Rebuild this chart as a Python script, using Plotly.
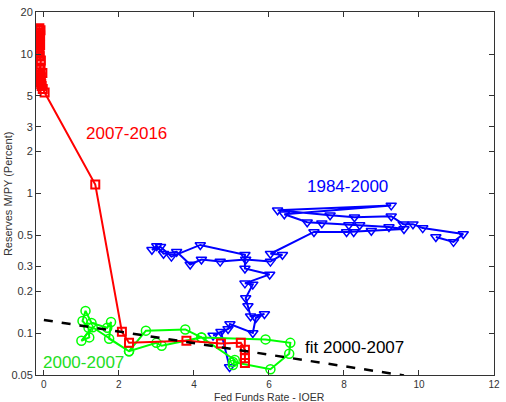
import math
import plotly.graph_objects as go

# ---------------- data ----------------
blue_x = [10.45, 10.92, 11.18, 10.10, 9.84, 9.58, 9.26, 8.28, 7.63, 6.23, 9.26, 6.41, 7.02, 7.41,
          8.13, 8.42, 9.20, 9.60, 8.73, 8.26, 8.07, 7.20, 6.04, 6.36, 6.04, 5.38, 4.70, 4.20, 3.90,
          3.54, 3.19, 3.01, 2.88, 3.11, 3.40, 4.17, 5.36, 5.36, 6.02, 5.36, 5.57, 5.38, 5.44, 5.51,
          5.88, 5.65, 5.57, 4.96, 4.91, 4.51, 4.72, 4.95]
blue_y = [0.488, 0.450, 0.513, 0.565, 0.603, 0.603, 0.687, 0.676, 0.699, 0.758, 0.822, 0.710, 0.623, 0.613,
          0.594, 0.594, 0.575, 0.556, 0.540, 0.530, 0.530, 0.530, 0.370, 0.364, 0.325, 0.336, 0.325, 0.336, 0.310,
          0.382, 0.370, 0.420, 0.395, 0.415, 0.353, 0.428, 0.364, 0.290, 0.263, 0.227, 0.223, 0.178, 0.156, 0.132,
          0.137, 0.128, 0.100, 0.116, 0.107, 0.096, 0.102, 0.057]

green_x = [5.04, 6.04, 6.54, 6.57, 5.91, 4.20, 3.77, 2.72, 2.27, 1.74, 1.79, 1.69, 1.27, 1.11, 1.03,
           1.19, 1.21, 1.00, 1.30, 2.27, 3.00, 3.14, 4.20, 5.09, 5.04]
green_y = [0.062, 0.055, 0.071, 0.085, 0.090, 0.093, 0.106, 0.104, 0.074, 0.091, 0.120, 0.109, 0.118, 0.144, 0.122,
           0.109, 0.093, 0.088, 0.110, 0.074, 0.085, 0.081, 0.093, 0.064, 0.059]

red_x = [5.36, 5.36, 5.36, 5.25, 4.72, 3.80, 2.27, 2.08, 1.37, 0.02,
         -0.03, -0.06, -0.10, -0.08, -0.04, -0.09, -0.12, -0.10, -0.07, -0.11, -0.13, -0.10,
         -0.08, -0.12, -0.15, -0.13, -0.10, -0.12, -0.14, -0.11, -0.09, -0.12, -0.15, -0.13,
         -0.10, -0.12, -0.14, -0.16, -0.13, -0.11, -0.14]
red_y = [0.061, 0.066, 0.076, 0.085, 0.084, 0.088, 0.085, 0.102, 1.16, 5.3,
         5.6, 5.9, 6.3, 6.8, 7.3, 7.7, 7.1, 6.5, 6.1, 6.7, 7.4, 8.0,
         9.0, 9.6, 10.2, 10.9, 11.6, 12.4, 13.2, 14.0, 14.8, 15.3, 15.0, 14.3,
         13.6, 12.8, 12.0, 11.2, 10.5, 9.8, 10.1]

fit_x = [0.0, 9.6]
fit_y = [0.124, 0.0496]

x_ticks = [0, 2, 4, 6, 8, 10, 12]
y_ticks = [0.05, 0.1, 0.2, 0.3, 0.5, 1, 2, 3, 5, 10, 20]
y_tick_text = ["0.05", "0.1", "0.2", "0.3", "0.5", "1", "2", "3", "5", "10", "20"]

BLUE = "#0000ff"
GREEN = "#00ff00"
RED = "#ff0000"
AX = "#333333"
FONT = "Liberation Sans, Arial, sans-serif"

fig = go.Figure()
fig.add_trace(go.Scatter(x=blue_x, y=blue_y, mode="lines+markers",
                         line=dict(color=BLUE, width=2),
                         marker=dict(symbol="triangle-down-open", size=9, color=BLUE,
                                     line=dict(width=1.5, color=BLUE))))
fig.add_trace(go.Scatter(x=green_x, y=green_y, mode="lines+markers",
                         line=dict(color=GREEN, width=2),
                         marker=dict(symbol="circle-open", size=9, color=GREEN,
                                     line=dict(width=1.5, color=GREEN))))
fig.add_trace(go.Scatter(x=red_x, y=red_y, mode="lines+markers",
                         line=dict(color=RED, width=2),
                         marker=dict(symbol="square-open", size=8, color=RED,
                                     line=dict(width=2, color=RED))))
fig.add_trace(go.Scatter(x=fit_x, y=fit_y, mode="lines",
                         line=dict(color="black", width=2.5, dash="dash")))

labels = [
    ("2007-2016", 2.2, 2.7, RED),
    ("1984-2000", 8.1, 1.12, BLUE),
    ("fit 2000-2007", 8.28, 0.0787, "black"),
    ("2000-2007", 1.06, 0.0617, "#22dd22"),
]
for txt, lx, ly, col in labels:
    fig.add_annotation(x=lx, y=math.log10(ly), text=txt, showarrow=False,
                       font=dict(size=17, color=col, family=FONT),
                       xanchor="center", yanchor="middle")

fig.add_annotation(xref="paper", yref="paper", x=0.509, y=-0.060, text="Fed Funds Rate - IOER",
                   showarrow=False, font=dict(size=10.5, color=AX, family=FONT),
                   xanchor="center", yanchor="middle")
fig.add_annotation(xref="paper", yref="paper", x=-0.062, y=0.5, text="Reserves M/PY (Percent)",
                   showarrow=False, textangle=-90, font=dict(size=11, color=AX, family=FONT),
                   xanchor="center", yanchor="middle")

fig.update_layout(
    width=506, height=402,
    margin=dict(l=36, r=6, t=7, b=27),
    paper_bgcolor="white", plot_bgcolor="white",
    showlegend=False,
    font=dict(family=FONT, size=11, color=AX),
)
fig.update_xaxes(range=[-0.21, 12], tickvals=x_ticks, ticks="inside", ticklen=5,
                 showline=True, mirror="ticks", linecolor=AX, tickcolor=AX, linewidth=1,
                 showgrid=False, zeroline=False, tickfont=dict(size=10, color=AX))
fig.update_yaxes(type="log", range=[math.log10(0.05), math.log10(20)], tickvals=y_ticks,
                 ticktext=y_tick_text, ticks="inside", ticklen=5,
                 showline=True, mirror="ticks", linecolor=AX, tickcolor=AX, linewidth=1,
                 showgrid=False, zeroline=False, tickfont=dict(size=11, color=AX))

fig.write_html("out.html")
